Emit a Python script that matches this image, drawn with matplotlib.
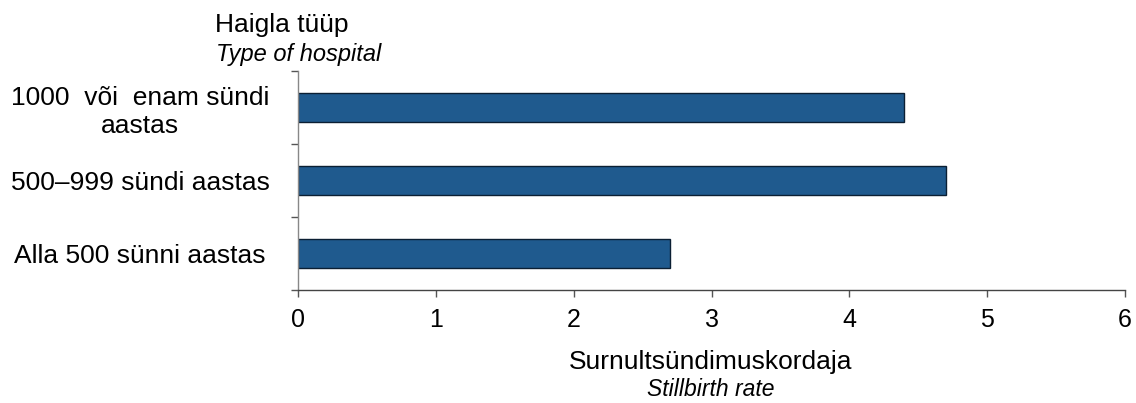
import matplotlib
matplotlib.use("Agg")
import matplotlib.pyplot as plt

categories = ["1000  või  enam sündi\naastas", "500–999 sündi aastas", "Alla 500 sünni aastas"]
values = [4.4, 4.7, 2.7]
x_ticks = [0, 1, 2, 3, 4, 5, 6]

plt.rcParams['font.family'] = ['Liberation Sans', 'DejaVu Sans']

W, H = 1136, 403
fig = plt.figure(figsize=(W / 100, H / 100), dpi=100)
ax = fig.add_axes([298 / W, 1 - 290 / H, (1125 - 298) / W, (290 - 71) / H])

pos = [i + 0.5 for i in range(len(categories))]
ax.barh(pos, values, height=0.41, color="#1F5A8E", edgecolor="#0B1F33", linewidth=1.0)

ax.set_xlim(0, 6)
ax.set_ylim(3, 0)
ax.set_xticks(x_ticks)
ax.set_xticklabels([str(t) for t in x_ticks], fontsize=18)
ax.tick_params(axis='x', direction='out', length=5, width=1, color='#555555', pad=8)

ax.set_yticks([0, 1, 2, 3])
ax.set_yticklabels([])
ax.tick_params(axis='y', which='major', direction='out', length=5, width=1, color='#555555')
ax.set_yticks(pos, minor=True)
ax.set_yticklabels(categories, minor=True, fontsize=19, ha='center', multialignment='center')
ax.tick_params(axis='y', which='minor', length=0, pad=(298 - 140) * 0.72)

for s in ['top', 'right']:
    ax.spines[s].set_visible(False)
ax.spines['left'].set_color('#888888')
ax.spines['bottom'].set_color('#444444')
ax.spines['left'].set_linewidth(1)
ax.spines['bottom'].set_linewidth(1)

fig.text(215 / W, 1 - 25 / H, "Haigla tüüp", fontsize=19, ha='left', va='center')
fig.text(216 / W, 1 - 55 / H, "Type of hospital", fontsize=17, style='italic', ha='left', va='center')

fig.text(711 / W, 1 - 362 / H, "Surnultsündimuskordaja", fontsize=19, ha='center', va='center')
fig.text(711 / W, 1 - 389 / H, "Stillbirth rate", fontsize=16.5, style='italic', ha='center', va='center')

fig.savefig("out.png", dpi=100)
